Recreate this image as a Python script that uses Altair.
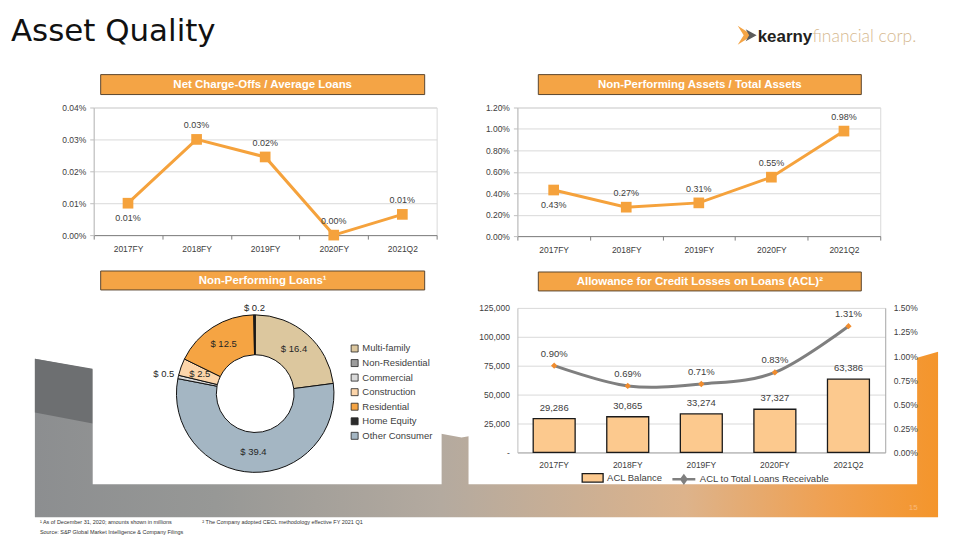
import altair as alt
import pandas as pd

# ---------------- data ----------------
years = ["2017FY", "2018FY", "2019FY", "2020FY", "2021Q2"]

nco_pct = [0.010, 0.030, 0.0245, 0.000, 0.0065]          # Net charge-offs / avg loans (%)
nco_ticks = [0.00, 0.01, 0.02, 0.03, 0.04]

npa_pct = [0.43, 0.27, 0.31, 0.55, 0.98]                  # NPA / total assets (%)
npa_ticks = [0.00, 0.20, 0.40, 0.60, 0.80, 1.00, 1.20]

acl_balance = [29286, 30865, 33274, 37327, 63386]
acl_ticks = [0, 25000, 50000, 75000, 100000, 125000]
acl_ratio = [0.90, 0.69, 0.71, 0.83, 1.31]                # ACL / total loans (%)
acl_ratio_ticks = [0.00, 0.25, 0.50, 0.75, 1.00, 1.25, 1.50]
series_names = ["ACL Balance", "ACL to Total Loans Receivable"]

npl_legend = ["Multi-family", "Non-Residential", "Commercial", "Construction",
              "Residential", "Home Equity", "Other Consumer"]
npl_colors = ["#DCC79E", "#9C9C9C", "#D9D9D9", "#FCD5AA", "#F5A443", "#2B2B2B", "#A4B6C3"]
npl_slices = ["Multi-family", "Other Consumer", "Commercial", "Construction",
              "Residential", "Home Equity"]
npl_values = [16.4, 39.4, 0.5, 2.5, 12.5, 0.2]

below_label_years = ["2017FY"]

# ---------------- styling ----------------
FONT = "Liberation Sans"
ORANGE = "#F5A23C"
LABEL = "#404040"
OY = 107          # page y of the first grid row (decoration panel origin)

one = pd.DataFrame({"k": [0]})


def rect(x, y, x2, y2, **kw):
    return alt.Chart(one).mark_rect(**kw).encode(
        x=alt.value(x), y=alt.value(y - OY), x2=alt.value(x2), y2=alt.value(y2 - OY))


def label(text, x, y, **kw):
    return alt.Chart(one).mark_text(text=text, **kw).encode(
        x=alt.value(x), y=alt.value(y - OY))


def shape(path, fill, **kw):
    return alt.Chart(one).mark_point(shape=path, size=4, filled=True, fill=fill,
                                     opacity=1, strokeWidth=0, **kw).encode(
        x=alt.value(0), y=alt.value(-OY))


grad = alt.LinearGradient(
    gradient="linear", x1=0, x2=1, y1=0, y2=0,
    stops=[alt.GradientStop(offset=0, color="#8C8E90"),
           alt.GradientStop(offset=0.2, color="#979896"),
           alt.GradientStop(offset=0.45, color="#B4AA9F"),
           alt.GradientStop(offset=0.72, color="#DDB38B"),
           alt.GradientStop(offset=0.88, color="#F0A050"),
           alt.GradientStop(offset=1, color="#F4952B")])

header_fill = "#F4A445"
header_stroke = "#5A4630"


def header(x, y, x2, y2, text):
    r = rect(x, y, x2, y2, fill=header_fill, stroke=header_stroke, strokeWidth=1)
    t = label(text, (x + x2) / 2, (y + y2) / 2 + 0.5, font=FONT, fontSize=11.5,
              fontWeight="bold", color="white", align="center", baseline="middle")
    return [r, t]


deco_layers = [
    rect(0, 0, 960, 540, fill="white"),
    shape("M32,359 L460,438 L917,358 L938,352 L938,518 L32,518 Z", grad),
    shape("M32,359 L90,369 L90,424 L32,413 Z", "#6D6F71"),
    rect(90, 262, 440, 485, fill="white"),
    rect(467, 262, 917, 485, fill="white"),
    label("Asset Quality", 8, 40, font="DejaVu Sans", fontSize=31, color="#111111",
          align="left", baseline="alphabetic"),
    shape("M737,25 L752,34.5 L737,44 L743,34.5 Z", "#F4A445"),
    shape("M745,28.5 L756,34.5 L745,40.5 L748.5,34.5 Z", "#5B5B5B"),
    label("kearny", 757, 41, font=FONT, fontSize=17, fontWeight="bold", color="#231F20",
          align="left", baseline="alphabetic"),
    label("financial corp.", 812, 41, font="Lato", fontSize=17.5, fontWeight=300,
          color="#D6B98F", align="left", baseline="alphabetic"),
    label("¹ As of December 31, 2020; amounts shown in millions", 37, 525, font=FONT,
          fontSize=5.5, color="#333333", align="left", baseline="alphabetic"),
    label("² The Company adopted CECL methodology effective FY 2021 Q1", 200, 525, font=FONT,
          fontSize=5.5, color="#333333", align="left", baseline="alphabetic"),
    label("Source: S&P Global Market Intelligence & Company Filings", 37, 535, font=FONT,
          fontSize=5.5, color="#333333", align="left", baseline="alphabetic"),
    label("15", 913, 509, font=FONT, fontSize=8, color="#FAB978", align="center",
          baseline="middle"),
]
deco_layers += header(98, 74, 423, 94, "Net Charge-Offs / Average Loans")
deco_layers += header(537, 74, 861, 94, "Non-Performing Assets / Total Assets")
deco_layers += header(98, 271, 423, 290, "Non-Performing Loans¹")
deco_layers += header(537, 272, 861, 291, "Allowance for Credit Losses on Loans (ACL)²")

deco = alt.layer(*deco_layers).properties(width=10, height=129)

spacer = alt.Chart(one).mark_point(opacity=0).encode(
    x=alt.value(0), y=alt.value(0)).properties(width=10, height=145)


# ---------------- line panels ----------------
def pct_panel(values, ticks, w, h):
    df = pd.DataFrame({"year": years, "pct": values})
    base = alt.Chart(df).transform_calculate(v="datum.pct / 100").encode(
        x=alt.X("year:N", sort=years, title=None, bandPosition=0.5,
                scale=alt.Scale(type="band", paddingInner=0, paddingOuter=0),
                axis=alt.Axis(labelAngle=0, tickBand="extent", ticks=True, tickSize=4,
                              domainColor="#808080", tickColor="#808080", labelPadding=5,
                              grid=False)),
        y=alt.Y("v:Q", title=None,
                scale=alt.Scale(domain=[ticks[0] / 100, ticks[-1] / 100], nice=False),
                axis=alt.Axis(values=[t / 100 for t in ticks], format=".2%", grid=True,
                              gridColor="#D9D9D9", domainColor="#BFBFBF", tickColor="#BFBFBF",
                              tickSize=4, labelPadding=4)))
    line = base.mark_line(color=ORANGE, strokeWidth=3)
    pts = base.mark_point(shape="square", filled=True, size=115, color=ORANGE, opacity=1)
    above = base.transform_filter(
        "indexof(" + str(below_label_years) + ", datum.year) < 0"
    ).mark_text(dy=-14, fontSize=9, color=LABEL, font=FONT).encode(
        text=alt.Text("v:Q", format=".2%"))
    below = base.transform_filter(
        "indexof(" + str(below_label_years) + ", datum.year) >= 0"
    ).mark_text(dy=15, fontSize=9, color=LABEL, font=FONT).encode(
        text=alt.Text("v:Q", format=".2%"))
    return alt.layer(line, pts, above, below).properties(
        width=w, height=h, view=alt.ViewBackground(stroke="#D9D9D9"))


tl = pct_panel(nco_pct, nco_ticks, 344, 128)
tr = pct_panel(npa_pct, npa_ticks, 364, 129)

# ---------------- donut ----------------
npl_df = pd.DataFrame({"cat": npl_slices, "val": npl_values,
                       "idx": list(range(len(npl_slices)))})
arcs = alt.Chart(npl_df).mark_arc(innerRadius=39, outerRadius=79, stroke="#111111",
                                  strokeWidth=1).encode(
    theta=alt.Theta("val:Q", stack=True),
    order=alt.Order("idx:Q"),
    x=alt.value(162), y=alt.value(86),
    color=alt.Color("cat:N", scale=alt.Scale(domain=npl_legend, range=npl_colors),
                    legend=alt.Legend(orient="none", legendX=348, legendY=237, title=None,
                                      symbolType="square", symbolSize=49,
                                      symbolStrokeColor="#222222", symbolStrokeWidth=0.8,
                                      symbolOpacity=1, labelFont=FONT, labelFontSize=9.5,
                                      labelColor=LABEL, labelOffset=3, rowPadding=3.6,
                                      padding=0)))
arc_labels = alt.Chart(npl_df).transform_window(
    cum="sum(val)", sort=[alt.SortField("idx", order="ascending")], frame=[None, 0]
).transform_joinaggregate(total="sum(val)").transform_calculate(
    mid="(datum.cum - datum.val / 2) / datum.total * 2 * PI",
    lab="'$ ' + format(datum.val, '.1f')",
    lr="datum.val < 1 ? 86 + 8 * abs(sin(datum.mid)) : 59"
).mark_text(fontSize=9.5, font=FONT, color="#262626").encode(
    theta=alt.Theta("mid:Q", scale=None, stack=None),
    radius=alt.Radius("lr:Q", scale=None),
    x=alt.value(162), y=alt.value(86),
    text="lab:N")
bl = alt.layer(arcs, arc_labels).properties(width=342, height=145)

# ---------------- ACL combo ----------------
acl_df = pd.DataFrame({"year": years, "bal": acl_balance, "pct": acl_ratio})
acl_base = alt.Chart(acl_df).transform_calculate(
    r="datum.pct / 100", s1="'" + series_names[0] + "'", s2="'" + series_names[1] + "'"
).encode(
    x=alt.X("year:N", sort=years, title=None, bandPosition=0.5,
            scale=alt.Scale(paddingInner=0.43, paddingOuter=0.215),
            axis=alt.Axis(labelAngle=0, ticks=False, domainColor="#A6A6A6", labelPadding=8)))
bal_y = alt.Y("bal:Q", title=None,
              scale=alt.Scale(domain=[acl_ticks[0], acl_ticks[-1]], nice=False),
              axis=alt.Axis(values=acl_ticks, grid=True, gridColor="#D9D9D9",
                            domainColor="#BFBFBF", ticks=False, labelPadding=8,
                            labelExpr="datum.value == 0 ? '-' : format(datum.value, ',')"))
bars = acl_base.mark_bar(stroke="#1A1A1A", strokeWidth=1.3).encode(
    y=bal_y,
    fill=alt.Fill("s1:N", scale=alt.Scale(domain=[series_names[0]], range=["#FCC98E"]),
                  legend=alt.Legend(orient="none", legendX=580, legendY=360, title=None,
                                    symbolType="M-1,-0.4H1V0.4H-1Z", symbolSize=441,
                                    symbolStrokeColor="#1A1A1A", symbolStrokeWidth=1.3,
                                    symbolOpacity=1, labelFont=FONT, labelFontSize=9.5,
                                    labelColor=LABEL, labelOffset=3, padding=0)))
bar_text = acl_base.mark_text(dy=-11, fontSize=9.5, font=FONT, color=LABEL).encode(
    y=bal_y, text=alt.Text("bal:Q", format=","))
r_y = alt.Y("r:Q", title=None,
            scale=alt.Scale(domain=[acl_ratio_ticks[0] / 100, acl_ratio_ticks[-1] / 100], nice=False),
            axis=alt.Axis(orient="right", values=[t / 100 for t in acl_ratio_ticks], format=".2%",
                          grid=False, domainColor="#A6A6A6", ticks=False, labelPadding=8))
rline = acl_base.mark_line(strokeWidth=3, interpolate="cardinal").encode(
    y=r_y,
    stroke=alt.Stroke("s2:N", scale=alt.Scale(domain=[series_names[1]], range=["#7F7F7F"]),
                      legend=alt.Legend(orient="none", legendX=670, legendY=360, title=None,
                                        symbolType="M-1,0H1M-0.22,0L0,-0.3L0.22,0L0,0.3Z",
                                        symbolSize=529, symbolStrokeWidth=2.5,
                                        symbolFillColor="#F08C2E", symbolOpacity=1,
                                        labelFont=FONT, labelFontSize=9.5, labelColor=LABEL,
                                        labelOffset=3, padding=0)))
rpts = acl_base.mark_point(shape="diamond", filled=True, size=40, color="#F08C2E",
                           opacity=1).encode(y=r_y)
rtext = acl_base.mark_text(dy=-12, fontSize=9.5, font=FONT, color=LABEL).encode(
    y=r_y, text=alt.Text("r:Q", format=".2%"))

left_layer = alt.layer(bars, bar_text)
right_layer = alt.layer(rline, rpts, rtext)
br = alt.layer(left_layer, right_layer).resolve_scale(y="independent").properties(
    width=369, height=145)

# ---------------- page ----------------
chart = alt.concat(deco, tl, tr, spacer, bl, br, columns=3,
                   spacing={"row": 72, "column": 81}, bounds="flush").properties(
    padding=0, background="white"
).configure_view(stroke=None).configure_axis(
    labelFont=FONT, labelFontSize=8.5, labelColor=LABEL
).configure_text(font=FONT)

chart.save("out.html", embed_options={"renderer": "svg", "actions": False})
